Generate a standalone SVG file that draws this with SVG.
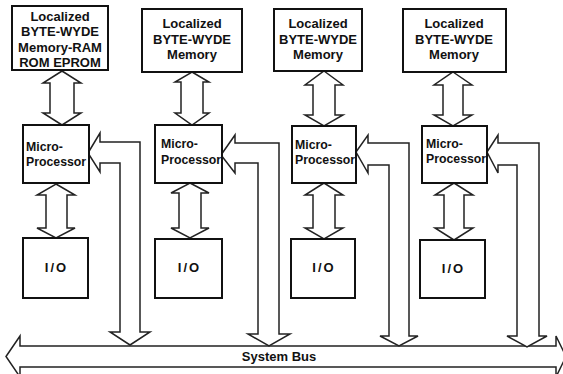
<svg xmlns="http://www.w3.org/2000/svg" width="563" height="374" viewBox="0 0 563 374">
<style>
.box{fill:#fff;stroke:#111;stroke-width:2}
.arr{fill:#fff;stroke:#222;stroke-width:1.5;stroke-linejoin:miter}
.t{font-family:"Liberation Sans",Arial,sans-serif;font-weight:bold;fill:#111}
.mem{font-size:13px;text-anchor:middle}
.mp{font-size:12.3px}
.io{font-size:13px;text-anchor:middle;letter-spacing:2px}
.bus{font-size:13px;text-anchor:middle}
</style>
<rect width="563" height="374" fill="#fff"/>
<g id="connectors">
<polygon class="arr" points="6,356.5 20,336 20,346 556,346 556,336 566,356.5 556,377 556,367 20,367 20,377"/>
<polygon class="arr" points="62,71 81,83 74,83 74,113 81,113 62,125 43,113 50,113 50,83 43,83"/>
<polygon class="arr" points="56,184 75,195 67,195 67,228 75,228 56,238 37,228 46,228 46,195 37,195"/>
<polygon class="arr" points="88,153 100,133 100,142 140,142 140,332 150,332 130,345 110,332 120,332 120,163 100,163 100,172"/>
<polygon class="arr" points="192,72 209,82 203,82 203,113 209,113 192,125 175,113 181,113 181,82 175,82"/>
<polygon class="arr" points="190,183 209,193 201,193 201,228 209,228 190,238 171,228 179,228 179,193 171,193"/>
<polygon class="arr" points="221,155 235,135 235,143 279,143 279,334 290,334 269,346 248,334 258,334 258,163 235,163 235,173"/>
<polygon class="arr" points="324,71 343,85 335,85 335,115 343,115 324,126 305,115 313,115 313,85 305,85"/>
<polygon class="arr" points="324,183 343,195 335,195 335,228 343,228 324,239 305,228 313,228 313,195 305,195"/>
<polygon class="arr" points="356,152 368,135 368,143 409,143 409,336 418,336 399,346 380,336 389,336 389,165 368,165 368,173"/>
<polygon class="arr" points="453,72 472,85 463,85 463,115 472,115 453,126 434,115 443,115 443,85 434,85"/>
<polygon class="arr" points="454,183 473,195 464,195 464,228 473,228 454,240 435,228 444,228 444,195 435,195"/>
<polygon class="arr" points="487,152 498,135 498,143 539,143 539,336 547,336 527,347 507,336 517,336 517,165 498,165 498,173"/>
<text class="t bus" x="279" y="361">System Bus</text>
</g>
<g id="mem1"><rect class="box" x="12" y="6" width="96" height="64"/>
<text class="t mem" x="60" y="20.5">Localized</text><text class="t mem" x="60" y="36">BYTE-WYDE</text><text class="t mem" x="60" y="51.5">Memory-RAM</text><text class="t mem" x="60" y="67">ROM EPROM</text></g>
<g id="mem2"><rect class="box" x="142" y="9" width="100" height="63"/>
<text class="t mem" x="192" y="28">Localized</text><text class="t mem" x="192" y="43.5">BYTE-WYDE</text><text class="t mem" x="192" y="59">Memory</text></g>
<g id="mem3"><rect class="box" x="274" y="9" width="88" height="62"/>
<text class="t mem" x="318" y="28">Localized</text><text class="t mem" x="318" y="43.5">BYTE-WYDE</text><text class="t mem" x="318" y="59">Memory</text></g>
<g id="mem4"><rect class="box" x="403" y="9" width="103" height="63"/>
<text class="t mem" x="454" y="28">Localized</text><text class="t mem" x="454" y="43.5">BYTE-WYDE</text><text class="t mem" x="454" y="58.5">Memory</text></g>
<g id="mp1"><rect class="box" x="23" y="125" width="66" height="58"/>
<text class="t mp" x="26" y="151">Micro-</text><text class="t mp" x="26" y="166">Processor</text></g>
<g id="mp2"><rect class="box" x="155" y="125" width="67" height="58"/>
<text class="t mp" x="161" y="148">Micro-</text><text class="t mp" x="161" y="164">Processor</text></g>
<g id="mp3"><rect class="box" x="292" y="126" width="64" height="57"/>
<text class="t mp" x="295" y="149">Micro-</text><text class="t mp" x="295" y="164">Processor</text></g>
<g id="mp4"><rect class="box" x="422" y="126" width="65" height="57"/>
<text class="t mp" x="426" y="148">Micro-</text><text class="t mp" x="426" y="163">Processor</text></g>
<g id="io1"><rect class="box" x="23" y="238" width="65" height="60"/><text class="t io" x="56.5" y="272">I/O</text></g>
<g id="io2"><rect class="box" x="155" y="239" width="67" height="59"/><text class="t io" x="189.5" y="272">I/O</text></g>
<g id="io3"><rect class="box" x="291" y="239" width="64" height="59"/><text class="t io" x="324" y="272">I/O</text></g>
<g id="io4"><rect class="box" x="420" y="240" width="65" height="58"/><text class="t io" x="453.5" y="273">I/O</text></g>
</svg>
